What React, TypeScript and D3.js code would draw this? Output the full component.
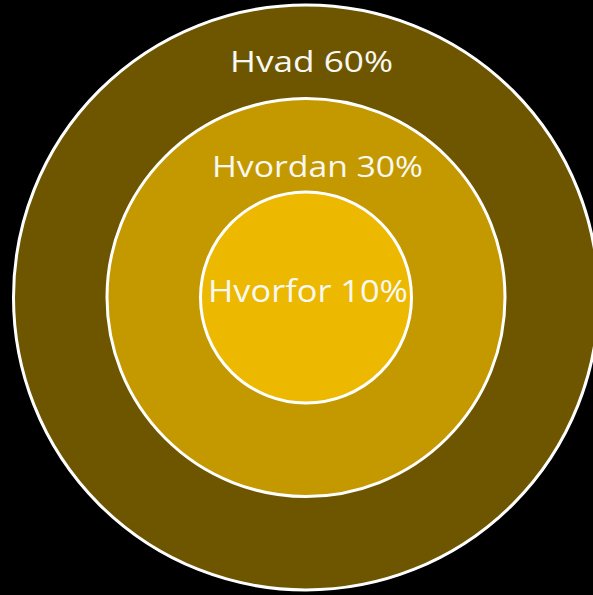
import React from "react";
import * as d3 from "d3";

const categories = ["Hvorfor", "Hvordan", "Hvad"];
const shares = [10, 30, 60];
const levels = [1, 2, 3];
const colors = ["#ecb800", "#c49900", "#6e5600"];

const W = 593;
const H = 595;
const cx = 306;
const cy = 297.5;

export default function App() {
  const rScale = d3.scaleLinear().domain([0, 3]).range([12, 292.5]);
  // label baseline offsets (y) and widths measured on reference
  const labelY = [302, 177, 72];
  const labelX = [308, 317.5, 311.5];
  const labelW = [200, 211, 163];
  const order = d3.range(categories.length).reverse(); // draw largest first
  return (
    <svg
      width={W}
      height={H}
      style={{ position: "absolute", left: 0, top: 0, background: "#000" }}
    >
      <rect x={0} y={0} width={W} height={H} fill="#000" />
      {order.map((i) => (
        <circle
          key={categories[i]}
          cx={cx}
          cy={cy}
          r={rScale(levels[i])}
          fill={colors[i]}
          stroke="#ffffff"
          strokeWidth={3}
        />
      ))}
      {order.map((i) => (
        <text
          key={"t" + categories[i]}
          x={labelX[i]}
          y={labelY[i]}
          textAnchor="middle"
          fill="#f8f8f2"
          fontFamily="'Open Sans', sans-serif"
          fontSize={i === 0 ? 31 : 29}
          textLength={labelW[i]}
          lengthAdjust="spacingAndGlyphs"
        >
          {`${categories[i]} ${shares[i]}%`}
        </text>
      ))}
    </svg>
  );
}
